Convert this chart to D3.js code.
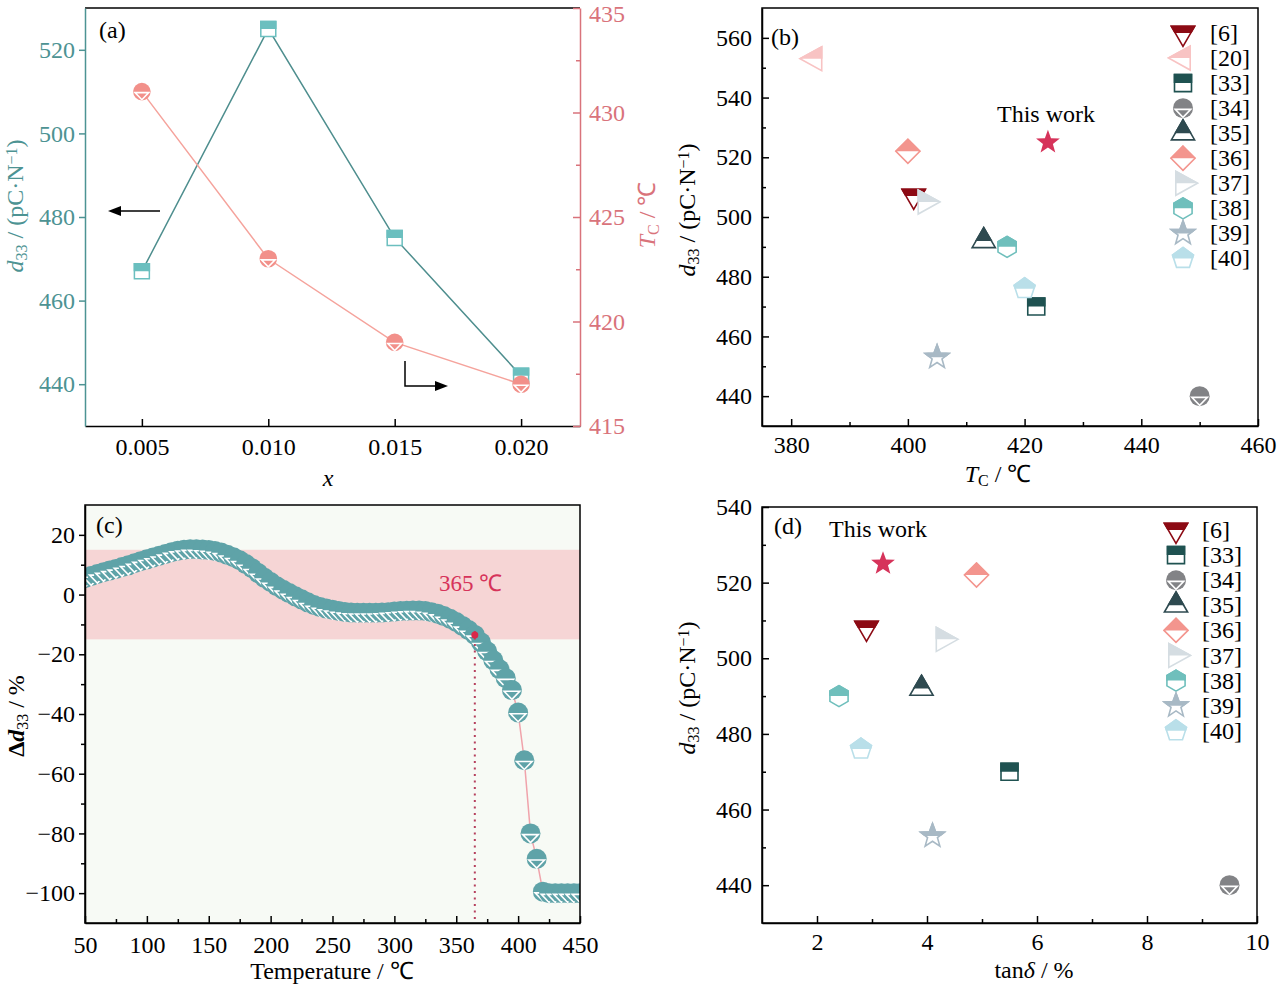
<!DOCTYPE html>
<html><head><meta charset="utf-8">
<script src="https://cdn.jsdelivr.net/npm/d3@7"></script>
<style>body{margin:0;background:#fff}svg{display:block}</style>
</head><body>
<script>
// ================= DATA =================
// Panel (a)
const xA = [0.005, 0.010, 0.015, 0.020];
const d33A = [467, 525, 475, 442];
const tcA = [431, 423, 419, 417];
const xTicksA = [0.005, 0.010, 0.015, 0.020];
const leftTicksA = [440, 460, 480, 500, 520];
const rightTicksA = [415, 420, 425, 430, 435];

// Panel (b)
const refsB = ["[6]","[20]","[33]","[34]","[35]","[36]","[37]","[38]","[39]","[40]"];
const tcB  = [401, 384, 422, 450, 413, 400, 403, 417, 405, 420];
const d33B = [507, 553, 470, 440, 492, 522, 505, 490, 453, 476];
const thisWorkTc = 424, thisWorkD33 = 525;
const xTicksB = [380, 400, 420, 440, 460];
const yTicksB = [440, 460, 480, 500, 520, 540, 560];

// Panel (c)
const tempC = [50,55,60,65,70,75,80,85,90,95,100,105,110,115,120,125,130,135,140,145,150,155,160,165,170,175,180,185,190,195,200,205,210,215,220,225,230,235,240,245,250,255,260,265,270,275,280,285,290,295,300,305,310,315,320,325,330,335,340,345,350,355,360,365,370,375,380,385,390,395,400,405,410,415,420,425,430,435,440,445,450];
const deltaC = [5.5,6.2,6.9,7.5,8.1,8.6,9.2,9.8,10.5,11.2,11.8,12.4,13.0,13.6,14.2,14.7,15.0,15.2,15.2,15.1,14.9,14.6,14.1,13.3,12.5,11.5,10.2,8.8,7.2,5.6,4.2,2.8,1.6,0.5,-0.6,-1.6,-2.6,-3.5,-4.2,-4.7,-5.1,-5.5,-5.8,-6.0,-6.1,-6.1,-6.1,-6.1,-6.0,-5.9,-5.7,-5.5,-5.4,-5.3,-5.3,-5.5,-5.9,-6.4,-7.2,-8.1,-9.2,-10.5,-11.9,-13.5,-16.0,-19.0,-22.0,-25.0,-28.0,-32.0,-39.5,-55.5,-80.0,-88.5,-99.5,-100,-100,-100,-100,-100,-100];
const bandC = [-15, 15];
const markTempC = 365, markValC = -13.5, markLabelC = "365 ℃";
const xTicksC = [50,100,150,200,250,300,350,400,450];
const yTicksC = [-100,-80,-60,-40,-20,0,20];

// Panel (d)
const refsD = ["[6]","[33]","[34]","[35]","[36]","[37]","[38]","[39]","[40]"];
const tanD = [2.9, 5.5, 9.5, 3.9, 4.9, 4.3, 2.4, 4.1, 2.8];
const d33D = [508, 470, 440, 492, 522, 505, 490, 453, 476];
const thisWorkTan = 3.2, thisWorkD33d = 525;
const xTicksD = [2, 4, 6, 8, 10];
const yTicksD = [440, 460, 480, 500, 520, 540];

// ================= STYLE =================
const FONT = '"Liberation Serif","Times New Roman",serif';
const FS = 24;
const refStyle = {
  "[6]":  {shape:"triDown", color:"#8c0a14"},
  "[20]": {shape:"triLeft", color:"#f8c3c3"},
  "[33]": {shape:"square",  color:"#1f5251"},
  "[34]": {shape:"circleV", color:"#828386"},
  "[35]": {shape:"triUp",   color:"#2e4a50"},
  "[36]": {shape:"diamond", color:"#f3958e"},
  "[37]": {shape:"triRight",color:"#d5dde2"},
  "[38]": {shape:"hexagon", color:"#6fbfbc"},
  "[39]": {shape:"star",    color:"#a8b9c5"},
  "[40]": {shape:"pentagon",color:"#b9dfe9"}
};
const TEAL_A = "#4d9393", TEAL_FILL = "#6bbfbf", PINK_A = "#d9737b", SALMON = "#f2908a";
const TEAL_C = "#5fa3a8", CRIMSON = "#d6335a";

const W = 1277, H = 987;
const svg = d3.select("body").append("svg").attr("width", W).attr("height", H)
  .attr("font-family", FONT);

const defs = svg.append("defs");
defs.append("clipPath").attr("id","topHalf").append("rect")
  .attr("x",-60).attr("y",-60).attr("width",120).attr("height",60);

function poly(pts){ return "M" + pts.map(p=>p[0].toFixed(2)+","+p[1].toFixed(2)).join("L") + "Z"; }
function regular(n, r, rot){ const a=[]; for(let k=0;k<n;k++){const t=(rot+k*360/n)*Math.PI/180; a.push([r*Math.cos(t), r*Math.sin(t)]);} return a; }
function starPts(ro, ri){ const a=[]; for(let k=0;k<10;k++){const t=(-90+k*36)*Math.PI/180; const r=k%2?ri:ro; a.push([r*Math.cos(t), r*Math.sin(t)]);} return a; }
function circ(r){ return `M${-r},0A${r},${r} 0 1,1 ${r},0A${r},${r} 0 1,1 ${-r},0Z`; }
function shapePath(shape, scale){
  const k = scale || 1;
  switch(shape){
    case "square": { const s=8.5*k; return poly([[-s,-s],[s,-s],[s,s],[-s,s]]); }
    case "triUp": return poly([[0,-13.3*k],[11.6*k,6.7*k],[-11.6*k,6.7*k]]);
    case "triDown": return poly([[0,13.3*k],[11.6*k,-6.7*k],[-11.6*k,-6.7*k]]);
    case "triLeft": return poly([[-14.5*k,0],[7.2*k,-12*k],[7.2*k,12*k]]);
    case "triRight": return poly([[14.5*k,0],[-7.2*k,-12*k],[-7.2*k,12*k]]);
    case "diamond": return poly([[0,-12*k],[12*k,0],[0,12*k],[-12*k,0]]);
    case "hexagon": return poly(regular(6,10.5*k,-90));
    case "pentagon": return poly(regular(5,11*k,-90));
    case "star": return poly(starPts(12.5*k,5.2*k));
    default: return circ(10*k);
  }
}
function drawMarker(parent, x, y, shape, color, scale, sw){
  const g = parent.append("g").attr("transform",`translate(${x},${y})`);
  const w = sw || 1.6;
  if(shape === "circleV"){
    const r = 10*(scale||1);
    g.append("path").attr("d",circ(r)).attr("fill",color);
    g.append("path").attr("d",poly([[-0.78*r,0.12*r],[0.78*r,0.12*r],[0,0.92*r]]))
      .attr("fill","none").attr("stroke","#fff").attr("stroke-width",1.6);
    return g;
  }
  const d = shapePath(shape, scale);
  g.append("path").attr("d",d).attr("fill","#fff").attr("stroke",color).attr("stroke-width",w).attr("stroke-linejoin","miter");
  g.append("path").attr("d",d).attr("fill",color).attr("stroke",color).attr("stroke-width",w).attr("clip-path","url(#topHalf)");
  return g;
}
function styleAxis(g, color){
  g.attr("font-family", FONT);
  g.select(".domain").attr("stroke",color).attr("stroke-width",1.5);
  g.selectAll(".tick line").attr("stroke",color).attr("stroke-width",1.5);
  g.selectAll(".tick text").attr("fill",color).attr("font-size",FS).attr("font-family",FONT);
}
function frame(x0,x1,y0,y1){
  svg.append("rect").attr("x",x0).attr("y",y0).attr("width",x1-x0).attr("height",y1-y0)
    .attr("fill","none").attr("stroke","#000").attr("stroke-width",1.5);
}
function minors(major){
  const out=[]; for(let i=0;i<major.length-1;i++) out.push((major[i]+major[i+1])/2); return out;
}
function d33Label(tx, ty, color){
  const t = svg.append("text").attr("transform",`translate(${tx},${ty}) rotate(-90)`).attr("text-anchor","middle")
    .attr("font-size",FS).attr("fill",color);
  t.append("tspan").attr("font-style","italic").text("d");
  t.append("tspan").attr("font-size",16).attr("baseline-shift","-25%").text("33");
  t.append("tspan").text(" / (pC·N");
  t.append("tspan").attr("font-size",16).attr("baseline-shift","40%").text("−1");
  t.append("tspan").text(")");
  return t;
}

// ================= PANEL (a) =================
(function(){
  const L=85,R=580,T=8,B=426;
  const x = d3.scaleLinear().domain([0.00275,0.02233]).range([L,R]);
  const yl = d3.scaleLinear().domain([430,530]).range([B,T]);
  const yr = d3.scaleLinear().domain([415,435]).range([B,T]);
  svg.append("line").attr("x1",L).attr("x2",R).attr("y1",T).attr("y2",T).attr("stroke","#000").attr("stroke-width",1.5);
  const gx = svg.append("g").attr("transform",`translate(0,${B})`)
    .call(d3.axisBottom(x).tickValues(xTicksA).tickFormat(d3.format(".3f")).tickSizeInner(-7).tickSizeOuter(0).tickPadding(12));
  styleAxis(gx,"#000");
  const gl = svg.append("g").attr("transform",`translate(${L},0)`)
    .call(d3.axisLeft(yl).tickValues(leftTicksA).tickSizeInner(6).tickSizeOuter(0).tickPadding(4));
  styleAxis(gl,TEAL_A);
  const gr = svg.append("g").attr("transform",`translate(${R},0)`)
    .call(d3.axisRight(yr).tickValues(rightTicksA).tickSizeInner(-7).tickSizeOuter(0).tickPadding(9));
  styleAxis(gr,PINK_A);
  gr.selectAll(".tick text").filter(d=>d===435).attr("dy","0.55em");
  const grm = svg.append("g").attr("transform",`translate(${R},0)`)
    .call(d3.axisRight(yr).tickValues(minors(rightTicksA)).tickSizeInner(-4).tickSizeOuter(0).tickFormat(""));
  styleAxis(grm,PINK_A); grm.select(".domain").remove();

  const pts = xA.map((v,i)=>({x:v,d:d33A[i],t:tcA[i]}));
  svg.append("path").datum(pts).attr("fill","none").attr("stroke","#4e8e8e").attr("stroke-width",1.5)
    .attr("d", d3.line().x(p=>x(p.x)).y(p=>yl(p.d)));
  svg.append("path").datum(pts).attr("fill","none").attr("stroke","#f5a39c").attr("stroke-width",1.5)
    .attr("d", d3.line().x(p=>x(p.x)).y(p=>yr(p.t)));
  pts.forEach(p=>drawMarker(svg, x(p.x), yl(p.d), "square", TEAL_FILL, 0.88, 1.5));
  pts.forEach(p=>drawMarker(svg, x(p.x), yr(p.t), "circleV", SALMON, 0.88));

  const ah = (x0,y0,dir)=> dir<0
    ? poly([[x0,y0],[x0+13,y0-5],[x0+13,y0+5]])
    : poly([[x0,y0],[x0-13,y0-5],[x0-13,y0+5]]);
  svg.append("line").attr("x1",160).attr("x2",118).attr("y1",211).attr("y2",211).attr("stroke","#000").attr("stroke-width",1.5);
  svg.append("path").attr("d",ah(108,211,-1)).attr("fill","#000");
  svg.append("path").attr("d","M405,361V386H438").attr("fill","none").attr("stroke","#000").attr("stroke-width",1.5);
  svg.append("path").attr("d",ah(448,386,1)).attr("fill","#000");

  svg.append("text").attr("x",99).attr("y",38).attr("font-size",FS).text("(a)");
  svg.append("text").attr("x",328).attr("y",486).attr("font-size",FS).attr("font-style","italic").attr("text-anchor","middle").text("x");
  d33Label(23, 206, TEAL_A);
  const t2 = svg.append("text").attr("transform","translate(655,215) rotate(-90)").attr("text-anchor","middle")
    .attr("font-size",FS).attr("fill",PINK_A);
  t2.append("tspan").attr("font-style","italic").text("T");
  t2.append("tspan").attr("font-size",16).attr("baseline-shift","-25%").text("C");
  t2.append("tspan").text(" / ℃");
})();

// ================= PANEL (b) =================
(function(){
  const L=762,R=1258,T=8,B=426;
  const x = d3.scaleLinear().domain([375,460]).range([L,R]);
  const y = d3.scaleLinear().domain([430,570]).range([B,T]);
  frame(L,R,T,B);
  const gx = svg.append("g").attr("transform",`translate(0,${B})`)
    .call(d3.axisBottom(x).tickValues(xTicksB).tickSizeInner(-7).tickSizeOuter(0).tickPadding(10));
  styleAxis(gx,"#000");
  const gxm = svg.append("g").attr("transform",`translate(0,${B})`)
    .call(d3.axisBottom(x).tickValues([390,410,430,450]).tickSizeInner(-4).tickSizeOuter(0).tickFormat(""));
  styleAxis(gxm,"#000"); gxm.select(".domain").remove();
  const gy = svg.append("g").attr("transform",`translate(${L},0)`)
    .call(d3.axisLeft(y).tickValues(yTicksB).tickSizeInner(-7).tickSizeOuter(0).tickPadding(10));
  styleAxis(gy,"#000");
  const gym = svg.append("g").attr("transform",`translate(${L},0)`)
    .call(d3.axisLeft(y).tickValues([450,470,490,510,530,550]).tickSizeInner(-4).tickSizeOuter(0).tickFormat(""));
  styleAxis(gym,"#000"); gym.select(".domain").remove();

  refsB.forEach((r,i)=>{ const s=refStyle[r]; drawMarker(svg, x(tcB[i]), y(d33B[i]), s.shape, s.color); });
  svg.append("path").attr("transform",`translate(${x(thisWorkTc)},${y(thisWorkD33)})`)
    .attr("d",shapePath("star",1)).attr("fill",CRIMSON);
  svg.append("text").attr("x",997).attr("y",122).attr("font-size",FS).text("This work");
  svg.append("text").attr("x",771).attr("y",45).attr("font-size",FS).text("(b)");

  const legY0 = 33, legDY = 25.05;
  refsB.forEach((r,i)=>{
    const s=refStyle[r]; const yy = legY0 + i*legDY;
    drawMarker(svg, 1183, yy, s.shape, s.color);
    svg.append("text").attr("x",1210).attr("y",yy+8).attr("font-size",FS).text(r);
  });

  const tx = svg.append("text").attr("x",998).attr("y",482).attr("text-anchor","middle").attr("font-size",FS);
  tx.append("tspan").attr("font-style","italic").text("T");
  tx.append("tspan").attr("font-size",16).attr("baseline-shift","-25%").text("C");
  tx.append("tspan").text(" / ℃");
  d33Label(695, 210, "#000");
})();

// ================= PANEL (c) =================
(function(){
  const L=85,R=580,T=505,B=923;
  const x = d3.scaleLinear().domain([50,450]).range([L,R]);
  const y = d3.scaleLinear().domain([-110,30]).range([B,T]);
  defs.append("clipPath").attr("id","clipC").append("rect").attr("x",L).attr("y",T).attr("width",R-L).attr("height",B-T);
  svg.append("rect").attr("x",L).attr("y",T).attr("width",R-L).attr("height",B-T).attr("fill","#f7faf5");
  svg.append("rect").attr("x",L).attr("width",R-L).attr("y",y(bandC[1])).attr("height",y(bandC[0])-y(bandC[1])).attr("fill","#f6d5d5");

  const pts = tempC.map((t,i)=>({t, v:deltaC[i]}));
  const gp = svg.append("g").attr("clip-path","url(#clipC)");
  gp.append("path").datum(pts).attr("fill","none").attr("stroke","#f0a3ab").attr("stroke-width",1.5)
    .attr("d", d3.line().x(p=>x(p.t)).y(p=>y(p.v)));
  pts.forEach(p=>{
    const g = gp.append("g").attr("transform",`translate(${x(p.t)},${y(p.v)})`);
    const r = 10;
    g.append("path").attr("d",circ(r)).attr("fill",TEAL_C);
    g.append("path").attr("d",poly([[-0.78*r,0.12*r],[0.78*r,0.12*r],[0,0.92*r]]))
      .attr("fill","none").attr("stroke","#fff").attr("stroke-width",1.6);
  });

  svg.append("line").attr("x1",x(markTempC)).attr("x2",x(markTempC)).attr("y1",y(markValC)-4).attr("y2",B)
    .attr("stroke","#b6405e").attr("stroke-width",2).attr("stroke-dasharray","2,4.5");
  svg.append("circle").attr("cx",x(markTempC)).attr("cy",y(markValC)).attr("r",3.5).attr("fill","#d8284a");
  svg.append("text").attr("x",439).attr("y",591).attr("font-size",23).attr("fill",CRIMSON).text(markLabelC);

  frame(L,R,T,B);
  const gx = svg.append("g").attr("transform",`translate(0,${B})`)
    .call(d3.axisBottom(x).tickValues(xTicksC).tickSizeInner(-7).tickSizeOuter(0).tickPadding(13));
  styleAxis(gx,"#000");
  const gxm = svg.append("g").attr("transform",`translate(0,${B})`)
    .call(d3.axisBottom(x).tickValues(minors(xTicksC)).tickSizeInner(-4).tickSizeOuter(0).tickFormat(""));
  styleAxis(gxm,"#000"); gxm.select(".domain").remove();
  const gy = svg.append("g").attr("transform",`translate(${L},0)`)
    .call(d3.axisLeft(y).tickValues(yTicksC).tickSizeInner(6).tickSizeOuter(0).tickPadding(4));
  styleAxis(gy,"#000");
  const gym = svg.append("g").attr("transform",`translate(${L},0)`)
    .call(d3.axisLeft(y).tickValues(minors(yTicksC)).tickSizeInner(4).tickSizeOuter(0).tickFormat(""));
  styleAxis(gym,"#000"); gym.select(".domain").remove();

  svg.append("text").attr("x",96).attr("y",533).attr("font-size",FS).text("(c)");
  svg.append("text").attr("x",332).attr("y",979).attr("text-anchor","middle").attr("font-size",FS).text("Temperature / ℃");
  const ty = svg.append("text").attr("transform","translate(24,716) rotate(-90)").attr("text-anchor","middle")
    .attr("font-size",FS).attr("font-weight","bold");
  ty.append("tspan").text("Δ");
  ty.append("tspan").attr("font-style","italic").text("d");
  ty.append("tspan").attr("font-size",16).attr("baseline-shift","-25%").attr("font-weight","normal").text("33");
  ty.append("tspan").attr("font-weight","normal").text(" / %");
})();

// ================= PANEL (d) =================
(function(){
  const L=762,R=1257,T=507,B=923;
  const x = d3.scaleLinear().domain([1,10]).range([L,R]);
  const y = d3.scaleLinear().domain([430,540]).range([B,T]);
  frame(L,R,T,B);
  const gx = svg.append("g").attr("transform",`translate(0,${B})`)
    .call(d3.axisBottom(x).tickValues(xTicksD).tickSizeInner(-7).tickSizeOuter(0).tickPadding(10));
  styleAxis(gx,"#000");
  const gxm = svg.append("g").attr("transform",`translate(0,${B})`)
    .call(d3.axisBottom(x).tickValues([3,5,7,9]).tickSizeInner(-4).tickSizeOuter(0).tickFormat(""));
  styleAxis(gxm,"#000"); gxm.select(".domain").remove();
  const gy = svg.append("g").attr("transform",`translate(${L},0)`)
    .call(d3.axisLeft(y).tickValues(yTicksD).tickSizeInner(-7).tickSizeOuter(0).tickPadding(10));
  styleAxis(gy,"#000");
  const gym = svg.append("g").attr("transform",`translate(${L},0)`)
    .call(d3.axisLeft(y).tickValues([450,470,490,510,530]).tickSizeInner(-4).tickSizeOuter(0).tickFormat(""));
  styleAxis(gym,"#000"); gym.select(".domain").remove();

  refsD.forEach((r,i)=>{ const s=refStyle[r]; drawMarker(svg, x(tanD[i]), y(d33D[i]), s.shape, s.color); });
  svg.append("path").attr("transform",`translate(${x(thisWorkTan)},${y(thisWorkD33d)})`)
    .attr("d",shapePath("star",1)).attr("fill",CRIMSON);
  svg.append("text").attr("x",829).attr("y",537).attr("font-size",FS).text("This work");
  svg.append("text").attr("x",774).attr("y",534).attr("font-size",FS).text("(d)");

  const legY0 = 530, legDY = 25.1;
  refsD.forEach((r,i)=>{
    const s=refStyle[r]; const yy = legY0 + i*legDY;
    drawMarker(svg, 1176, yy, s.shape, s.color);
    svg.append("text").attr("x",1202).attr("y",yy+8).attr("font-size",FS).text(r);
  });

  const tx = svg.append("text").attr("x",1034).attr("y",978).attr("text-anchor","middle").attr("font-size",FS);
  tx.append("tspan").text("tan");
  tx.append("tspan").attr("font-style","italic").text("δ");
  tx.append("tspan").text(" / %");
  d33Label(695, 688, "#000");
})();
</script>
</body></html>
